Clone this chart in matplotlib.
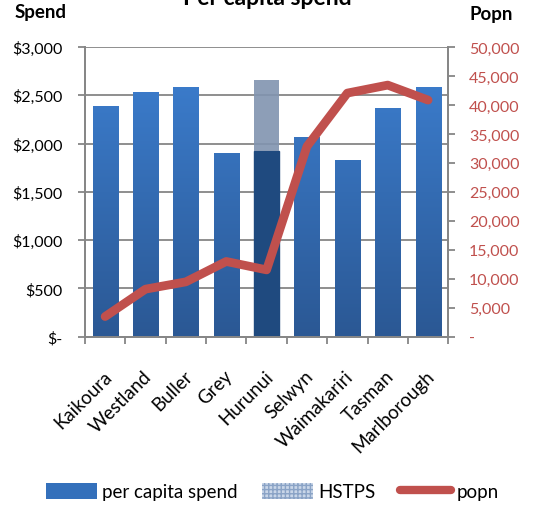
import numpy as np
from matplotlib import pyplot as plt
from matplotlib.patches import Patch
from matplotlib.lines import Line2D
from matplotlib.colors import LinearSegmentedColormap

plt.rcParams['font.family'] = ['Lato', 'DejaVu Sans']

## DATA
districts = ["Kaikoura", "Westland", "Buller", "Grey", "Hurunui",
             "Selwyn", "Waimakariri", "Tasman", "Marlborough"]
spend = [2390, 2535, 2590, 1900, 1922, 2067, 1826, 2368, 2590]
hstps = [0, 0, 0, 0, 737, 0, 0, 0, 0]
popn = [3450, 8180, 9440, 12960, 11510, 32840, 42050, 43430, 40840]
spend_ticks = [0, 500, 1000, 1500, 2000, 2500, 3000]
spend_labels = ["$-", "$500", "$1,000", "$1,500", "$2,000", "$2,500", "$3,000"]
popn_ticks = list(range(0, 50001, 5000))
popn_labels = ["-"] + ["{:,}".format(v) for v in popn_ticks[1:]]
## END DATA

grey = "#868686"
red = "#c0504d"
blue_top, blue_bot = "#3d80d2", "#2b5894"
grad = LinearSegmentedColormap.from_list("bar", [blue_bot, blue_top])

fig = plt.figure(figsize=(5.48, 5.06), dpi=100)
ax = fig.add_axes([0.155, 0.333, 0.663, 0.572])
ax2 = ax.twinx()

x = np.arange(len(districts))
bars = ax.bar(x, spend, width=0.62, color=blue_top, zorder=2)
gimg = np.linspace(0, 1, 256).reshape(-1, 1)
for i, b in enumerate(bars):
    if districts[i] == "Hurunui":
        b.set_color("#1f4a7f")
        continue
    im = ax.imshow(gimg, cmap=grad, origin="lower", aspect="auto",
                   extent=[b.get_x(), b.get_x() + b.get_width(), 0, 3000], zorder=2)
    im.set_clip_path(b)
    b.set_alpha(0)
ax.bar(x, hstps, bottom=spend, width=0.62, color="#8194b0", alpha=0.9, zorder=2)

ax.set_xlim(-0.5, len(districts) - 0.5)
ax.set_ylim(0, 3000)
ax.set_yticks(spend_ticks)
ax.set_yticklabels(spend_labels, fontsize=11.5)
ax.grid(axis="y", color=grey, linewidth=1.3, zorder=0)
ax.set_axisbelow(True)
ax.set_xticks(x - 0.06)
ax.set_xticklabels(districts, rotation=45, ha="right", rotation_mode="anchor", fontsize=13.5)
ax.set_xticks(np.arange(-0.5, len(districts)), minor=True)
ax.tick_params(axis="x", which="major", length=0, pad=22)
ax.tick_params(axis="x", which="minor", length=5, color=grey, width=1.3)
ax.tick_params(axis="y", length=5, color=grey, width=1.3, pad=11)

ax2.plot(x, popn, color=red, linewidth=6.3, solid_capstyle="round",
         solid_joinstyle="round", zorder=3)
ax2.set_ylim(0, 50000)
ax2.set_yticks(popn_ticks)
ax2.set_yticklabels(popn_labels, fontsize=11.5, color=red)
ax2.tick_params(axis="y", length=5, color=grey, width=1.3, pad=10)

for a in (ax, ax2):
    a.spines["top"].set_visible(False)
    for s in ("left", "right", "bottom"):
        a.spines[s].set_color(grey)
        a.spines[s].set_linewidth(1.3)

fig.text(0.487, 1 - 5 / 506, "Per capita spend", ha="center", va="baseline",
         fontsize=16.5, fontweight="bold")
fig.text(0.027, 0.975, "Spend", ha="left", va="center", fontsize=13.5, fontweight="bold")
fig.text(0.896, 0.972, "Popn", ha="center", va="center", fontsize=13.5, fontweight="bold")

handles = [Patch(facecolor="#3470bb", edgecolor="none"),
           Patch(facecolor="#c9d6e8", edgecolor="#8aa3c6", hatch="++++", linewidth=0),
           Line2D([0], [0], color=red, linewidth=6, solid_capstyle="round")]
fig.legend(handles, ["per capita spend", "HSTPS", "popn"], loc="center",
           bbox_to_anchor=(0.497, 0.026), ncol=3, frameon=False, fontsize=13.5,
           handlelength=2.7, handleheight=0.9, handletextpad=0.3, columnspacing=1.3)

plt.savefig("out.png", dpi=100)
